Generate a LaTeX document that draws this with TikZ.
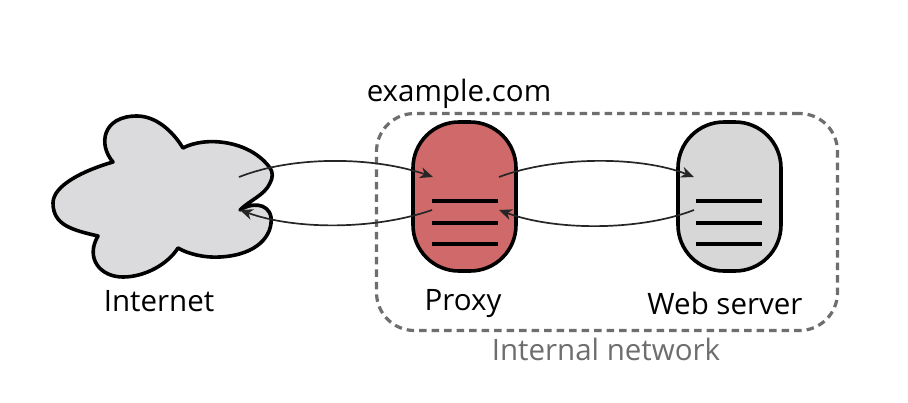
\documentclass[tikz,border=0pt]{standalone}
\usepackage{fontspec}
\setmainfont{Open Sans}
\usetikzlibrary{arrows.meta}
\definecolor{cloudgray}{RGB}{219,219,221}
\definecolor{proxyred}{RGB}{208,106,106}
\definecolor{webgray}{RGB}{215,215,215}
\definecolor{boxgray}{RGB}{110,110,110}
\tikzset{
  server/.style={draw=black,line width=3.6pt,rounded corners=46pt,minimum width=103pt,minimum height=149pt,inner sep=0pt},
  slot/.style={line width=3.4pt},
  link/.style={line width=1.7pt,-{Stealth[length=13pt,width=11pt,inset=4pt]},black!85},
  lbl/.style={inner sep=0pt,font=\fontsize{29.5}{33}\selectfont,anchor=base},
}
\begin{document}
\begin{tikzpicture}[x=1pt,y=-1pt]
\useasboundingbox (0,0) rectangle (908,402);
\fill[white] (0,0) rectangle (908,402);
% internal network
\node[draw=boxgray,line width=3.2pt,dash pattern=on 7.5pt off 5pt,rounded corners=38pt,minimum width=461pt,minimum height=217pt,inner sep=0pt] (net) at (607,222) {};
% cloud
\draw[line width=3.6pt,fill=cloudgray,line join=round]
  (53,203) .. controls (53,185) and (85,170) .. (113,162)
  .. controls (98,145) and (102,116) .. (137,116)
  .. controls (155,116) and (172,130) .. (183,148)
  .. controls (205,136) and (250,140) .. (270,168)
  .. controls (273,172) and (273,178) .. (270,183)
  .. controls (265,195) and (250,200) .. (240,210)
  .. controls (250,203) and (268,202) .. (271,217)
  .. controls (273,235) and (258,255) .. (220,257)
  .. controls (205,258) and (188,254) .. (178,248)
  .. controls (168,264) and (145,277) .. (123,277)
  .. controls (100,277) and (85,258) .. (98,236)
  .. controls (72,230) and (53,225) .. (53,203) -- cycle;
\coordinate (cloudout) at (239,177);
\coordinate (cloudin) at (240,210);
% servers
\node[server,fill=proxyred] (proxy) at (464.5,196.5) {};
\node[server,fill=webgray] (web) at (729.5,196.5) {};
\coordinate (pl1) at (432,201); \coordinate (pr1) at (498,201);
\coordinate (pl2) at (432,223); \coordinate (pr2) at (498,223);
\coordinate (pl3) at (432,244); \coordinate (pr3) at (498,244);
\coordinate (wl1) at (696,201); \coordinate (wr1) at (762,201);
\coordinate (wl2) at (696,223); \coordinate (wr2) at (762,223);
\coordinate (wl3) at (696,244); \coordinate (wr3) at (762,244);
\draw[slot] (pl1)--(pr1) (pl2)--(pr2) (pl3)--(pr3) (wl1)--(wr1) (wl2)--(wr2) (wl3)--(wr3);
% arrow anchors
\coordinate (pinL) at (433,177);
\coordinate (poutR) at (499,177);
\coordinate (poutL) at (432,210);
\coordinate (pinR) at (499,210);
\coordinate (win) at (694,177);
\coordinate (wout) at (694,210);
\draw[link] (cloudout) .. controls (295,155) and (375,157) .. (pinL);
\draw[link] (poutL) .. controls (375,230) and (295,230) .. (cloudin);
\draw[link] (poutR) .. controls (555,156) and (640,156) .. (win);
\draw[link] (wout) .. controls (640,231) and (555,231) .. (pinR);
% labels
\node[lbl] (linternet) at (159,311) {Internet};
\node[lbl] (lproxy) at (463,310) {Proxy};
\node[lbl] (lweb) at (725,314) {Web server};
\node[lbl,text=boxgray] (lnet) at (606,360) {Internal network};
\node[lbl] (lex) at (459,101) {example.com};
\end{tikzpicture}
\end{document}
